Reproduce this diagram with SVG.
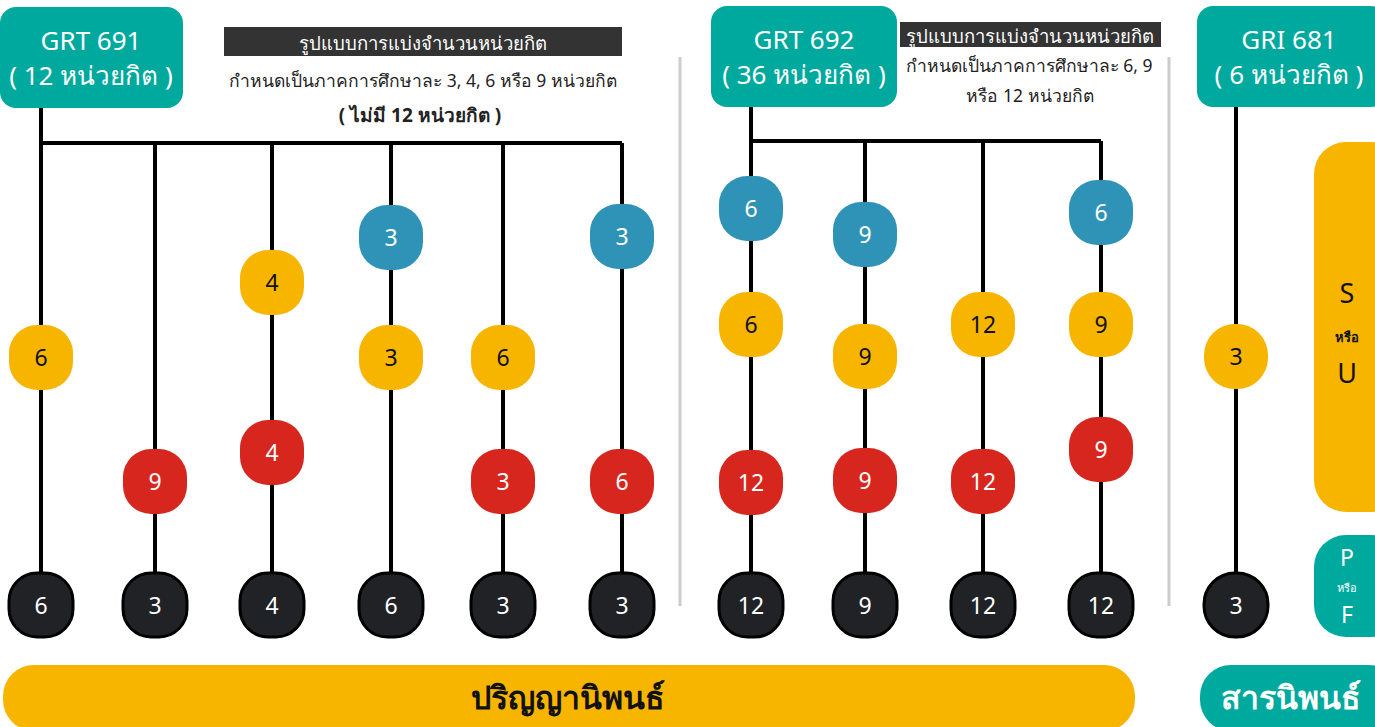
<svg xmlns="http://www.w3.org/2000/svg" width="1375" height="727" viewBox="0 0 1375 727">
<style>
text{font-family:"Noto Sans","DejaVu Sans",sans-serif;text-anchor:middle;dominant-baseline:central}
.hd{fill:#00A99D}
.hdt{fill:#fff;font-size:26px}
.n{font-size:23px}
.y{fill:#F7B500}.y+text{fill:#111}
.r{fill:#D7261E}.r+text{fill:#fff}
.b{fill:#2E93B6}.b+text{fill:#fff}
.k{fill:#202226;stroke:#000;stroke-width:3}.k+text{fill:#fff}
.ln{stroke:#000;stroke-width:4;fill:none}
.sep{stroke:#ccc;stroke-width:3}
.lbl{fill:#333}
.lblt{fill:#fff;font-size:18.5px}
.note{fill:#222;font-size:17.5px}
</style>
<rect width="1375" height="727" fill="#fff"/>
<g id="separators">
<line class="sep" x1="680" y1="57" x2="680" y2="606"/>
<line class="sep" x1="1169" y1="57" x2="1169" y2="606"/>
</g>
<g id="connectors">
<path class="ln" d="M41 108V605M41 143H622M155 143V605M272 143V605M391 143V605M503 143V605M622 143V605"/>
<path class="ln" d="M751 107V605M751 141H1101M865 141V605M983 141V605M1101 141V605"/>
<path class="ln" d="M1236 107V605"/>
</g>
<g id="grt691"><rect class="hd" x="0" y="7" width="183" height="101" rx="16"/><text class="hdt" x="91" y="40">GRT 691</text><text class="hdt" x="91" y="75">( 12 หน่วยกิต )</text></g>
<g id="grt692"><rect class="hd" x="711" y="6" width="186" height="101" rx="16"/><text class="hdt" x="804" y="39">GRT 692</text><text class="hdt" x="804" y="74">( 36 หน่วยกิต )</text></g>
<g id="gri681"><rect class="hd" x="1197" y="6" width="190" height="101" rx="16"/><text class="hdt" x="1289" y="39">GRI 681</text><text class="hdt" x="1289" y="74">( 6 หน่วยกิต )</text></g>
<g id="note1">
<rect class="lbl" x="224" y="27" width="398" height="29"/>
<text class="lblt" x="423" y="42">รูปแบบการแบ่งจำนวนหน่วยกิต</text>
<text class="note" x="423" y="80">กำหนดเป็นภาคการศึกษาละ 3, 4, 6 หรือ 9 หน่วยกิต</text>
<text class="note" x="420" y="115" font-weight="bold" style="font-size:19px">( ไม่มี 12 หน่วยกิต )</text>
</g>
<g id="note2">
<rect class="lbl" x="900" y="22" width="261" height="25"/>
<text class="lblt" x="1030" y="35">รูปแบบการแบ่งจำนวนหน่วยกิต</text>
<text class="note" x="1029" y="65">กำหนดเป็นภาคการศึกษาละ 6, 9</text>
<text class="note" x="1030" y="95">หรือ 12 หน่วยกิต</text>
</g>
<g id="nodes" class="n">
<g id="c1"><rect class="y" x="9" y="325" width="64" height="65" rx="28"/><text x="41" y="357">6</text><rect class="k" x="9" y="573" width="64" height="64" rx="28"/><text x="41" y="605">6</text></g>
<g id="c2"><rect class="r" x="123" y="449" width="64" height="65" rx="28"/><text x="155" y="481">9</text><rect class="k" x="123" y="573" width="64" height="64" rx="28"/><text x="155" y="605">3</text></g>
<g id="c3"><rect class="y" x="240" y="250" width="64" height="65" rx="28"/><text x="272" y="282">4</text><rect class="r" x="240" y="420" width="64" height="65" rx="28"/><text x="272" y="452">4</text><rect class="k" x="240" y="573" width="64" height="64" rx="28"/><text x="272" y="605">4</text></g>
<g id="c4"><rect class="b" x="359" y="205" width="64" height="65" rx="28"/><text x="391" y="237">3</text><rect class="y" x="359" y="325" width="64" height="65" rx="28"/><text x="391" y="357">3</text><rect class="k" x="359" y="573" width="64" height="64" rx="28"/><text x="391" y="605">6</text></g>
<g id="c5"><rect class="y" x="471" y="325" width="64" height="65" rx="28"/><text x="503" y="357">6</text><rect class="r" x="471" y="449" width="64" height="65" rx="28"/><text x="503" y="481">3</text><rect class="k" x="471" y="573" width="64" height="64" rx="28"/><text x="503" y="605">3</text></g>
<g id="c6"><rect class="b" x="590" y="204" width="64" height="65" rx="28"/><text x="622" y="236">3</text><rect class="r" x="590" y="449" width="64" height="65" rx="28"/><text x="622" y="481">6</text><rect class="k" x="590" y="573" width="64" height="64" rx="28"/><text x="622" y="605">3</text></g>
<g id="c7"><rect class="b" x="719" y="176" width="64" height="65" rx="28"/><text x="751" y="208">6</text><rect class="y" x="719" y="292" width="64" height="65" rx="28"/><text x="751" y="324">6</text><rect class="r" x="719" y="450" width="64" height="65" rx="28"/><text x="751" y="482">12</text><rect class="k" x="719" y="573" width="64" height="64" rx="28"/><text x="751" y="605">12</text></g>
<g id="c8"><rect class="b" x="833" y="202" width="64" height="65" rx="28"/><text x="865" y="234">9</text><rect class="y" x="833" y="324" width="64" height="65" rx="28"/><text x="865" y="356">9</text><rect class="r" x="833" y="448" width="64" height="65" rx="28"/><text x="865" y="480">9</text><rect class="k" x="833" y="573" width="64" height="64" rx="28"/><text x="865" y="605">9</text></g>
<g id="c9"><rect class="y" x="951" y="292" width="64" height="65" rx="28"/><text x="983" y="324">12</text><rect class="r" x="951" y="449" width="64" height="65" rx="28"/><text x="983" y="481">12</text><rect class="k" x="951" y="573" width="64" height="64" rx="28"/><text x="983" y="605">12</text></g>
<g id="c10"><rect class="b" x="1069" y="180" width="64" height="65" rx="28"/><text x="1101" y="212">6</text><rect class="y" x="1069" y="292" width="64" height="65" rx="28"/><text x="1101" y="324">9</text><rect class="r" x="1069" y="417" width="64" height="65" rx="28"/><text x="1101" y="449">9</text><rect class="k" x="1069" y="573" width="64" height="64" rx="28"/><text x="1101" y="605">12</text></g>
<g id="c11"><rect class="y" x="1204" y="324" width="64" height="65" rx="31"/><text x="1236" y="356">3</text><rect class="k" x="1204" y="573" width="64" height="64" rx="31"/><text x="1236" y="605">3</text></g>
</g>
<g id="su"><rect x="1314" y="142" width="90" height="370" rx="32" fill="#F7B500"/><text x="1347" y="292" font-size="27" fill="#111">S</text><text x="1347" y="337" font-size="13" fill="#111" font-weight="bold">หรือ</text><text x="1347" y="372" font-size="27" fill="#111">U</text></g>
<g id="pf"><rect x="1314" y="535" width="90" height="102" rx="32" fill="#00A99D"/><text x="1347" y="557" font-size="23" fill="#fff">P</text><text x="1347" y="587" font-size="11" fill="#fff">หรือ</text><text x="1347" y="614" font-size="23" fill="#fff">F</text></g>
<g id="thesis"><rect x="3" y="665" width="1132" height="66" rx="31" fill="#F7B500"/><text x="568" y="696" font-size="32" font-weight="bold" fill="#111">ปริญญานิพนธ์</text></g>
<g id="is"><rect x="1200" y="665" width="200" height="66" rx="31" fill="#00A99D"/><text x="1291" y="696" font-size="32" font-weight="bold" fill="#fff">สารนิพนธ์</text></g>
</svg>
